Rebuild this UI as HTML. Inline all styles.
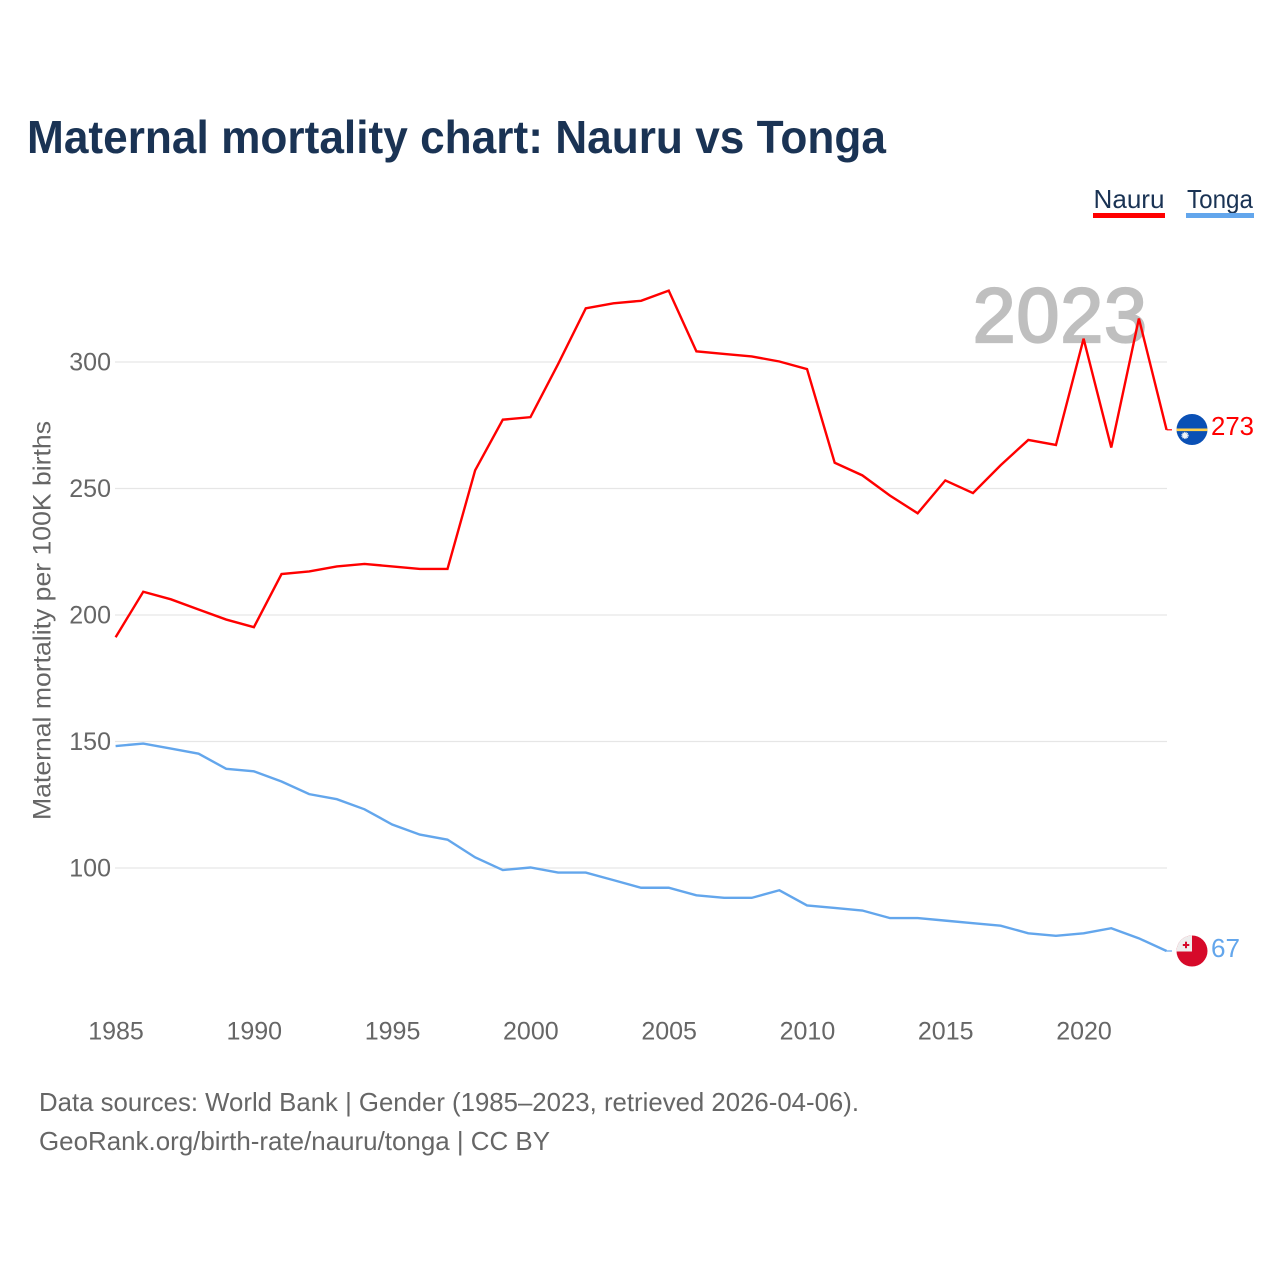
<!DOCTYPE html>
<html>
<head>
<meta charset="utf-8">
<title>Maternal mortality chart: Nauru vs Tonga</title>
<style>
html,body{margin:0;padding:0;background:#fff;width:1280px;height:1280px;overflow:hidden}
svg{display:block}
text{font-family:"Liberation Sans",sans-serif}
</style>
</head>
<body>
<svg id="chart" xmlns="http://www.w3.org/2000/svg" width="1280" height="1280" viewBox="0 0 1280 1280">
  <defs>
    <clipPath id="clip-nauru"><circle id="clip-nauru-circle" cx="1192" cy="429.5" r="15.5"/></clipPath>
    <clipPath id="clip-tonga"><circle id="clip-tonga-circle" cx="1192" cy="951" r="15.5"/></clipPath>
  </defs>
  <text x="27" y="153" font-size="46" font-weight="700" fill="#1a3354" textLength="859" lengthAdjust="spacingAndGlyphs">Maternal mortality chart: Nauru vs Tonga</text>

  <g>
    <text x="1093.5" y="208" font-size="26" fill="#1a3354" textLength="71" lengthAdjust="spacingAndGlyphs">Nauru</text>
    <rect x="1093" y="213" width="72" height="5" fill="#ff0000"/>
  </g>
  <g>
    <text x="1187" y="208" font-size="26" fill="#1a3354" textLength="66" lengthAdjust="spacingAndGlyphs">Tonga</text>
    <rect x="1186" y="213" width="68" height="5" fill="#63a6ec"/>
  </g>

  <g id="grid"></g>
  <text x="1148" y="342" font-size="77" font-weight="400" fill="#bfbfbf" stroke="#bfbfbf" stroke-width="2.2" letter-spacing="1" text-anchor="end">2023</text>
  <g id="y-ticks"></g>
  <g id="x-ticks"></g>
  <text transform="translate(50.5,820) rotate(-90)" font-size="25" fill="#666666" textLength="399" lengthAdjust="spacingAndGlyphs">Maternal mortality per 100K births</text>

  <g id="series"></g>

  <g id="flag-nauru" clip-path="url(#clip-nauru)">
    <rect x="1176" y="413" width="32" height="33" fill="#0a50b5"/>
    <rect x="1176" y="428.5" width="32" height="2.6" fill="#ffd04d"/>
    <circle cx="1185" cy="435.5" r="2.8" fill="#eef2f7"/>
    <circle cx="1185" cy="435.5" r="3.2" fill="none" stroke="#eef2f7" stroke-width="0.9" stroke-dasharray="1 0.7"/>
  </g>
  <g id="flag-tonga" clip-path="url(#clip-tonga)">
    <rect x="1176" y="935" width="32" height="32" fill="#d60a2a"/>
    <rect x="1176" y="935" width="16" height="16.5" fill="#eeeeee"/>
    <rect x="1185" y="941.7" width="2" height="6.5" fill="#d60a2a"/>
    <rect x="1182.8" y="944" width="6.5" height="2" fill="#d60a2a"/>
  </g>

  <text x="1211" y="435" font-size="26" fill="#ff0000" textLength="43" lengthAdjust="spacingAndGlyphs">273</text>
  <text x="1211" y="957" font-size="26" fill="#63a6ec" textLength="29" lengthAdjust="spacingAndGlyphs">67</text>

  <text x="39" y="1111" font-size="26" fill="#666666" textLength="820" lengthAdjust="spacingAndGlyphs">Data sources: World Bank | Gender (1985–2023, retrieved 2026-04-06).</text>
  <text x="39" y="1150" font-size="26" fill="#666666" textLength="511" lengthAdjust="spacingAndGlyphs">GeoRank.org/birth-rate/nauru/tonga | CC BY</text>
</svg>
<script>
const years = [1985,1986,1987,1988,1989,1990,1991,1992,1993,1994,1995,1996,1997,1998,1999,2000,2001,2002,2003,2004,2005,2006,2007,2008,2009,2010,2011,2012,2013,2014,2015,2016,2017,2018,2019,2020,2021,2022,2023];
const nauruValues = [191,209,206,202,198,195,216,217,219,220,219,218,218,257,277,278,299,321,323,324,328,304,303,302,300,297,260,255,247,240,253,248,259,269,267,309,266,317,273];
const tongaValues = [148,149,147,145,139,138,134,129,127,123,117,113,111,104,99,100,98,98,95,92,92,89,88,88,91,85,84,83,80,80,79,78,77,74,73,74,76,72,67];
const yTickValues = [100,150,200,250,300];
const xTickValues = [1985,1990,1995,2000,2005,2010,2015,2020];

const NS = 'http://www.w3.org/2000/svg';
function xScale(year){ return 116 + (year - 1985) * (1084 - 116) / 35; }
function yScale(v){ return 868 - (v - 100) * (868 - 362) / 200; }
function mk(tag, attrs, parent, txt){
  const el = document.createElementNS(NS, tag);
  for (const k in attrs) el.setAttribute(k, attrs[k]);
  if (txt !== undefined) el.textContent = txt;
  parent.appendChild(el);
  return el;
}

const gridG = document.getElementById('grid');
const yG = document.getElementById('y-ticks');
yTickValues.forEach(function(v){
  const line = mk('line', {x1:115, x2:1167, y1:yScale(v), y2:yScale(v), stroke:'#e6e6e6', 'stroke-width':1.2}, gridG);
  
  
  const label = mk('text', {x:111, y:yScale(v)+8.5, 'font-size':25, fill:'#666666', 'text-anchor':'end'}, yG, String(v));
  
  
});

const xG = document.getElementById('x-ticks');
xTickValues.forEach(function(y){
  const label = mk('text', {x:xScale(y), y:1039.5, 'font-size':25, fill:'#666666', 'text-anchor':'middle'}, xG, String(y));
  
  
});

const seriesG = document.getElementById('series');
function drawSeries(values, color){
  const pts = values.map(function(v,i){ return (xScale(years[i]) - 0.4).toFixed(2) + ',' + (yScale(v) - 0.5).toFixed(2); });
  return mk('polyline', {points:pts.join(' '), fill:'none', stroke:color, 'stroke-width':2.4, 'stroke-linejoin':'miter'}, seriesG);
}
function drawTail(values, color){
  const last = values[values.length-1];
  const lastX = xScale(years[years.length-1]);
  const yy = yScale(last) - 0.5;
  return mk('line', {x1:lastX - 0.4, x2:lastX + 5, y1:yy, y2:yy, stroke:color, 'stroke-width':1.2}, seriesG);
}
const nauruLine = drawSeries(nauruValues, '#ff0000');


const nauruTail = drawTail(nauruValues, '#ff0000');


const tongaLine = drawSeries(tongaValues, '#63a6ec');


const tongaTail = drawTail(tongaValues, '#63a6ec');


</script>
</body>
</html>
